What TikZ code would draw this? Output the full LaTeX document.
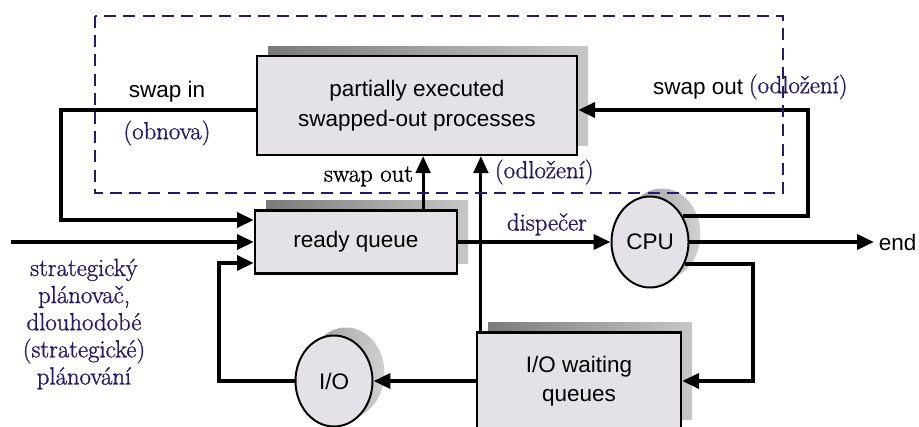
\documentclass[tikz,border=0pt]{standalone}
\usepackage{fontspec}
\setsansfont{Liberation Sans}
\newfontfamily\notefont{Latin Modern Roman}[FakeBold=1.2]
\usepackage{xcolor}
\usetikzlibrary{positioning,arrows.meta,shapes.geometric,shadows}
\definecolor{lilac}{HTML}{261A6E}
\definecolor{boxgray}{HTML}{E4E2E6}

\begin{document}
\begin{tikzpicture}[
  >={Triangle[length=12pt,width=10.5pt]},
  sans/.style={font=\sffamily\fontsize{16}{21}\selectfont},
  note/.style={font=\notefont\fontsize{17.6}{19.3}\selectfont, text=lilac, align=center},
  box/.style={sans, draw, line width=1.6pt, fill=boxgray, align=center, inner sep=0pt},
  qbox/.style={box, general shadow={shadow xshift=0.28cm, shadow yshift=0.25cm, left color=black!52, right color=black!22}},
  proc/.style={box, ellipse, line width=1.4pt, minimum width=1.925cm, minimum height=2.275cm,
    general shadow={shadow xshift=0.3cm, shadow yshift=0.2cm, left color=black!40, right color=black!18}},
  wire/.style={line width=2.8pt},
  lift/.style={line width=2pt}]
  \useasboundingbox (0,0) rectangle (22.975,-10.65);
  \node[qbox, minimum width=8cm, minimum height=2.475cm] (swap) at (10.425,-2.64) {partially executed\\swapped-out processes};
  \node[qbox, minimum width=5.05cm, minimum height=1.575cm] (ready) at (8.9,-6.05) {ready queue};
  \node[proc] (cpu) at (16.25,-6.05) {CPU};
  \node[proc] (io) at (8.35,-9.525) {I/O};
  \node[qbox, minimum width=5.1cm, minimum height=2.425cm] (wait) at (14.475,-9.525) {I/O waiting\\queues};
  \node[sans, anchor=west] (end) at (21.85,-6.05) {end};
  \node[note] (plan) at (2.1,-8.1) {strategický\\plánovač,\\dlouhodobé\\(strategické)\\plánování};
  \coordinate (start) at (0.275,-6.05);
  \draw[->, wire] (start) -- (ready.west);
  \draw[->, wire] ([yshift=-0.11cm]swap.west) -- ++(-4.875,0)
    node[pos=0.456, above=1pt, sans]{swap in}
    node[pos=0.456, below=0.1cm, note]{(obnova)}
    |- ([yshift=0.55cm]ready.west);
  \draw[->, wire] (io.west) -- ++(-1.8875,0) |- ([yshift=-0.525cm]ready.west);
  \draw[->, wire] (ready.east) -- node[pos=0.583, above=0pt, note]{dispečer} (cpu.west);
  \draw[->, lift] ([xshift=-0.875cm]ready.north east) -- ([xshift=-0.875cm]ready.north east |- swap.south)
    node[pos=0.62, left=0.1cm, note, text=black]{swap out};
  \draw[->, lift] ([xshift=0.125cm]wait.north west) -- ([xshift=0.125cm]wait.north west |- swap.south)
    node[pos=0.91, right=0.2cm, note]{(odložení)};
  \draw[->, wire] (cpu.38) -| ([xshift=5.75cm, yshift=-0.11cm]swap.east) -- ([yshift=-0.11cm]swap.east)
    node[pos=0.478, above=0.1cm, sans]{swap out}
    node[pos=0.043, above=0.1cm, note]{(odložení)};
  \draw[->, wire] (cpu.east) -- (end.west);
  \draw[->, wire] (cpu.-32) -| ([xshift=1.775cm]wait.east) -- (wait.east);
  \draw[->, wire] (wait.west) -- (io.east);
  \draw[lilac, line width=1.5pt, dash pattern=on 0.3cm off 0.18cm] (2.375,-0.4) rectangle (19.575,-4.825);
\end{tikzpicture}
\end{document}
